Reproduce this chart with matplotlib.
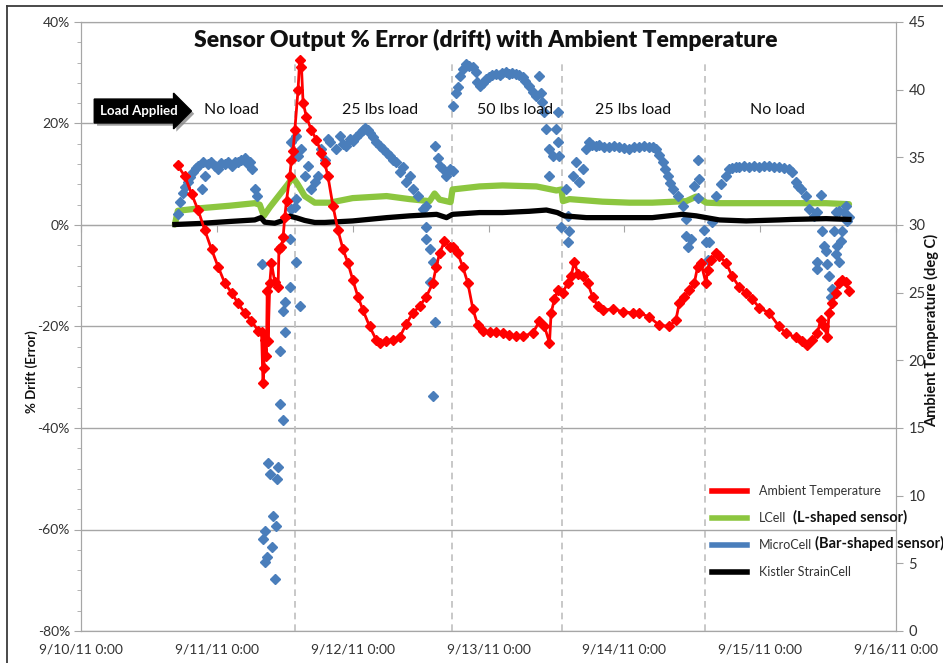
import datetime as dt
import matplotlib
matplotlib.use("Agg")
import matplotlib.pyplot as plt
import matplotlib.dates as mdates
import matplotlib.patheffects as pe
from matplotlib.ticker import MultipleLocator, FuncFormatter
from matplotlib.lines import Line2D

START = dt.datetime(2011, 9, 10)

# ---------------- data (days after 9/10/11 0:00) ----------------
temp_days = [0.711, 0.765, 0.814, 0.862, 0.912, 0.961, 1.010, 1.059, 1.108, 1.157,
             1.206, 1.255, 1.304, 1.329, 1.340, 1.346, 1.353, 1.365, 1.371, 1.377,
             1.390, 1.402, 1.426, 1.451, 1.457, 1.476, 1.488, 1.500, 1.513, 1.537,
             1.549, 1.561, 1.574, 1.598, 1.610, 1.623, 1.635, 1.660, 1.696, 1.733,
             1.770, 1.794, 1.818, 1.855, 1.892, 1.929, 1.965, 2.002, 2.039, 2.076,
             2.125, 2.174, 2.199, 2.248, 2.296, 2.346, 2.395, 2.443, 2.493, 2.542,
             2.590, 2.615, 2.640, 2.676, 2.713, 2.738, 2.774, 2.811, 2.848, 2.885,
             2.921, 2.958, 3.010, 3.057, 3.105, 3.154, 3.200, 3.252, 3.326, 3.375,
             3.412, 3.449, 3.461, 3.485, 3.510, 3.546, 3.583, 3.608, 3.632, 3.657,
             3.693, 3.730, 3.767, 3.804, 3.840, 3.914, 3.988, 4.061, 4.110, 4.184,
             4.257, 4.331, 4.380, 4.404, 4.441, 4.478, 4.515, 4.539, 4.564, 4.601,
             4.613, 4.638, 4.674, 4.699, 4.748, 4.796, 4.846, 4.895, 4.943, 4.993,
             5.066, 5.140, 5.189, 5.263, 5.311, 5.348, 5.385, 5.421, 5.446, 5.471,
             5.495, 5.507, 5.532, 5.557, 5.581, 5.605, 5.630, 5.654]
temp_vals = [34.4, 33.6, 32.3, 31.1, 29.6, 28.2, 26.9, 25.7, 25.0, 24.2,
             23.5, 22.9, 22.2, 22.1, 18.3, 19.4, 21.5, 20.3, 25.1, 21.4,
             25.7, 27.2, 25.8, 25.4, 28.2, 28.4, 29.1, 30.6, 31.8, 33.6,
             34.8, 35.5, 37.0, 40.0, 42.2, 41.7, 39.0, 38.0, 37.0, 36.3,
             35.3, 34.6, 33.6, 31.4, 29.6, 28.2, 27.2, 25.9, 24.7, 23.7,
             22.5, 21.5, 21.3, 21.4, 21.5, 21.7, 22.7, 23.5, 24.0, 24.7,
             25.7, 26.9, 27.9, 28.8, 28.4, 28.4, 27.9, 26.9, 25.7, 23.8,
             22.6, 22.2, 22.1, 22.1, 22.0, 21.9, 21.8, 21.8, 22.0, 22.9,
             22.5, 21.3, 23.5, 24.5, 25.2, 25.0, 25.7, 26.2, 27.3, 26.4,
             26.2, 25.7, 24.7, 24.0, 23.7, 23.8, 23.6, 23.5, 23.5, 23.2,
             22.6, 22.5, 23.0, 24.2, 24.7, 25.2, 25.7, 26.9, 27.2, 25.7,
             26.7, 27.4, 27.9, 27.7, 27.2, 26.2, 25.4, 25.0, 24.5, 23.9,
             23.5, 22.5, 22.0, 21.7, 21.4, 21.1, 21.5, 22.0, 23.0, 22.5,
             21.7, 23.5, 24.2, 25.0, 25.7, 25.9, 25.8, 25.1]

lcell_days = [0.691, 0.713, 0.875, 1.096, 1.279, 1.316, 1.346, 1.390, 1.463, 1.522,
              1.559, 1.596, 1.647, 1.721, 1.831, 2.000, 2.250, 2.419, 2.566, 2.603,
              2.640, 2.721, 2.735, 2.934, 3.103, 3.353, 3.500, 3.537, 3.548, 3.596,
              3.838, 4.037, 4.206, 4.456, 4.529, 4.603, 4.699, 5.140, 5.485, 5.654]
lcell_vals = [0.1, 2.8, 3.3, 3.8, 4.3, 4.0, 1.8, 3.5, 6.0, 8.0,
              9.4, 8.0, 5.7, 4.4, 4.4, 5.3, 5.7, 5.1, 4.7, 6.2,
              5.0, 4.5, 7.0, 7.6, 7.8, 7.6, 6.8, 7.0, 4.7, 5.1,
              4.6, 4.4, 4.4, 4.7, 5.6, 4.4, 4.3, 4.3, 4.3, 4.1]

kistler_days = [0.691, 0.875, 1.096, 1.279, 1.324, 1.353, 1.426, 1.478, 1.537, 1.588,
                1.647, 1.721, 1.794, 2.000, 2.250, 2.419, 2.618, 2.691, 2.735, 2.934,
                3.103, 3.300, 3.426, 3.507, 3.559, 3.721, 4.037, 4.206, 4.426, 4.529,
                4.603, 4.699, 4.897, 5.140, 5.235, 5.485, 5.654]
kistler_vals = [0.1, 0.3, 0.7, 1.0, 1.45, 0.55, 0.35, 0.8, 1.75, 1.4,
                0.9, 0.5, 0.5, 0.8, 1.45, 1.8, 2.1, 1.45, 2.1, 2.45,
                2.45, 2.7, 2.95, 2.45, 1.8, 1.45, 1.45, 1.45, 2.1, 1.8,
                1.45, 1.0, 0.8, 1.0, 1.1, 1.25, 1.1]

micro_days = [0.713, 0.728, 0.750, 0.765, 0.787, 0.801, 0.824, 0.846, 0.860, 0.890,
              0.897, 0.912, 0.934, 0.956, 0.985, 1.007, 1.029, 1.059, 1.081, 1.110,
              1.132, 1.154, 1.176, 1.206, 1.228, 1.243, 1.257, 1.279, 1.294, 1.329,
              1.375, 1.390, 1.441, 1.449, 1.412, 1.434, 1.353, 1.338, 1.404, 1.368,
              1.353, 1.426, 1.463, 1.485, 1.485, 1.500, 1.500, 1.463, 1.537, 1.586,
              1.610, 1.537, 1.549, 1.574, 1.586, 1.549, 1.586, 1.596, 1.623, 1.647,
              1.669, 1.696, 1.721, 1.743, 1.770, 1.794, 1.816, 1.831, 1.880, 1.904,
              1.926, 1.954, 1.978, 2.000, 2.022, 2.051, 2.074, 2.088, 2.110, 2.125,
              2.147, 2.174, 2.199, 2.223, 2.250, 2.272, 2.294, 2.321, 2.346, 2.368,
              2.395, 2.419, 2.443, 2.480, 2.517, 2.542, 2.542, 2.542, 2.566, 2.590,
              2.566, 2.603, 2.588, 2.603, 2.627, 2.640, 2.664, 2.689, 2.713, 2.735,
              2.738, 2.762, 2.772, 2.787, 2.809, 2.836, 2.860, 2.885, 2.910, 2.919,
              2.934, 2.956, 2.983, 3.007, 3.029, 3.057, 3.081, 3.103, 3.130, 3.154,
              3.176, 3.203, 3.228, 3.252, 3.272, 3.301, 3.324, 3.351, 3.375, 3.388,
              3.397, 3.412, 3.424, 3.449, 3.449, 3.473, 3.498, 3.510, 3.522, 3.510,
              3.537, 3.571, 3.583, 3.596, 3.583, 3.620, 3.645, 3.669, 3.693, 3.718,
              3.743, 3.765, 3.792, 3.816, 3.853, 3.890, 3.926, 3.963, 4.000, 4.037,
              4.074, 4.110, 4.147, 4.184, 4.208, 4.233, 4.257, 4.282, 4.301, 4.319,
              4.338, 4.355, 4.393, 4.429, 4.454, 4.454, 4.490, 4.466, 4.515, 4.539,
              4.551, 4.539, 4.588, 4.601, 4.625, 4.613, 4.649, 4.674, 4.711, 4.748,
              4.772, 4.794, 4.821, 4.846, 4.882, 4.919, 4.956, 4.993, 5.029, 5.066,
              5.103, 5.140, 5.176, 5.213, 5.238, 5.262, 5.279, 5.299, 5.336, 5.360,
              5.397, 5.421, 5.446, 5.458, 5.471, 5.483, 5.421, 5.421, 5.495, 5.507,
              5.520, 5.532, 5.544, 5.557, 5.568, 5.581, 5.593, 5.605, 5.618, 5.630,
              5.642, 5.581, 5.557, 5.654]
micro_vals = [2.1, 4.5, 6.4, 7.4, 8.4, 9.4, 10.4, 11.2, 11.6, 7.0,
              12.4, 9.6, 12.0, 12.5, 11.6, 11.0, 12.2, 12.0, 12.5, 11.6,
              12.4, 12.4, 12.9, 13.3, 12.0, 12.5, 11.0, 7.0, 5.7, -7.7,
              -46.8, -49.1, -50.1, -47.7, -57.4, -59.4, -60.3, -61.9, -63.5, -65.5,
              -66.5, -69.8, -35.3, -38.5, -17.0, -15.2, -21.1, -24.9, -2.8, -7.3,
              -16.0, -12.3, 3.1, 3.5, 5.1, 16.3, 17.5, 13.5, 14.9, 9.6,
              11.6, 7.0, 8.4, 9.6, 14.9, 12.9, 16.9, 16.3, 14.9, 17.5,
              15.9, 15.5, 16.9, 16.5, 17.3, 18.2, 18.8, 19.2, 18.8, 18.2,
              17.3, 16.3, 15.5, 14.9, 14.1, 13.5, 12.9, 12.4, 10.4, 11.4,
              8.4, 9.6, 7.0, 5.7, 3.1, 3.7, -0.3, -2.8, -4.8, -7.3,
              -11.3, -19.2, -33.7, 15.5, 13.3, 11.6, 11.0, 9.6, 11.0, 10.6,
              23.4, 26.1, 27.1, 29.3, 30.7, 31.7, 31.3, 31.1, 30.1, 28.1,
              27.3, 27.9, 28.7, 29.1, 29.5, 29.7, 29.5, 29.9, 30.1, 29.7,
              29.9, 29.7, 29.5, 29.1, 28.3, 27.3, 26.3, 25.4, 29.3, 26.1,
              24.2, 22.2, 18.9, 14.9, 9.6, 13.5, 18.9, 16.3, 13.5, 22.2,
              -0.3, 7.0, 1.7, -1.2, -3.4, 9.6, 12.4, 8.4, 11.0, 14.9,
              16.3, 15.7, 15.5, 15.7, 15.3, 15.3, 15.5, 15.3, 15.1, 14.9,
              15.3, 15.3, 15.5, 15.3, 15.3, 14.9, 13.7, 12.4, 11.0, 9.6,
              8.2, 7.0, 5.7, 3.7, 1.1, -2.2, -2.8, -4.4, 7.6, 12.9,
              9.0, 5.4, -0.9, -3.4, -3.4, -6.8, 0.5, 5.7, 8.0, 9.6,
              11.0, 11.2, 11.4, 11.4, 11.6, 11.4, 11.6, 11.4, 11.6, 11.6,
              11.4, 11.4, 11.2, 11.0, 10.4, 8.4, 7.6, 7.0, 5.7, 3.1,
              1.7, 2.5, 6.0, -1.2, -4.2, -5.2, -7.3, -8.7, -7.7, -10.1,
              -14.1, -12.7, -1.2, -5.8, -4.2, -7.2, -3.2, -1.2, 2.5, 3.7,
              0.7, 2.7, 2.5, 1.5]

load_change_days = [1.574, 2.728, 3.544, 4.596]
region_labels = ["No load", "25 lbs load", "50 lbs load", "25 lbs load", "No load"]
series_names = ["Ambient Temperature", "LCell", "MicroCell", "Kistler StrainCell"]

assert len(temp_days) == len(temp_vals)
assert len(lcell_days) == len(lcell_vals)
assert len(kistler_days) == len(kistler_vals)
assert len(micro_days) == len(micro_vals)

# ---------------- figure ----------------
W, H = 943, 663
plt.rcParams['font.family'] = ['Lato', 'DejaVu Sans']
fig = plt.figure(figsize=(W / 100, H / 100), dpi=100)


def fx(px):
    return px / W


def fy(py):
    return 1 - py / H


def dates(days):
    return [START + dt.timedelta(days=d) for d in days]


GRID = '#a6a6a6'
TXT = '#333333'
RED = '#ff0000'
GREEN = '#8cc63f'
BLUE = '#4a7ebb'

# chart-area border (top and left edges visible in the reference)
fig.add_artist(Line2D([fx(7), 1.0], [fy(6), fy(6)], color='#3a3a3a', lw=1.3))
fig.add_artist(Line2D([fx(7), fx(7)], [fy(6), 0.0], color='#3a3a3a', lw=1.3))

ax = fig.add_axes([fx(81), fy(631), fx(896) - fx(81), fy(22) - fy(631)])
ax2 = ax.twinx()

ax.plot(dates(lcell_days), lcell_vals, color=GREEN, lw=4.5, zorder=3,
        solid_joinstyle='round', solid_capstyle='round')
ax.plot(dates(micro_days), micro_vals, ls='none', marker='D', ms=4.8,
        color=BLUE, zorder=4)
ax.plot(dates(kistler_days), kistler_vals, color='black', lw=3.8, zorder=5,
        solid_joinstyle='round')
ax2.plot(dates(temp_days), temp_vals, color=RED, lw=2, marker='D', ms=4.8,
         zorder=3, solid_joinstyle='round')

ax.vlines(dates(load_change_days), -80, 32, colors='#bfbfbf',
          linestyles=(0, (4, 3)), lw=1.2, zorder=1)

ax.set_xlim(START, START + dt.timedelta(days=6))
ax.set_ylim(-80, 40)
ax2.set_ylim(0, 45)

ax.yaxis.set_major_locator(MultipleLocator(20))
ax.yaxis.set_minor_locator(MultipleLocator(4))
ax.yaxis.set_major_formatter(FuncFormatter(lambda v, _: f"{v:.0f}%"))
ax.tick_params(axis='y', which='major', length=5, color=GRID, labelsize=10,
               labelcolor=TXT, pad=3)
ax.tick_params(axis='y', which='minor', length=3, color=GRID)
ax.grid(axis='y', which='major', color=GRID, lw=1)
ax.set_axisbelow(True)


def date_fmt(v, _):
    d = mdates.num2date(v)
    return f"{d.month}/{d.day}/{d:%y} {d.hour}:{d:%M}"


ax.xaxis.set_major_locator(mdates.DayLocator())
ax.xaxis.set_major_formatter(FuncFormatter(date_fmt))
ax.tick_params(axis='x', length=0, pad=9, labelsize=10, labelcolor=TXT)

sec = ax.secondary_xaxis(80 / 120)
sec.xaxis.set_major_locator(mdates.DayLocator())
sec.tick_params(axis='x', direction='in', length=5, color=GRID, labeltop=False)
for s in sec.spines.values():
    s.set_color(GRID)

ax2.yaxis.set_major_locator(MultipleLocator(5))
ax2.yaxis.set_major_formatter(FuncFormatter(lambda v, _: f"{v:.0f}"))
ax2.tick_params(axis='y', length=5, color=GRID, labelsize=10.5, labelcolor=TXT, pad=4)

for a in (ax, ax2):
    for s in a.spines.values():
        s.set_color(GRID)

# ---------------- texts ----------------
fig.text(fx(486), fy(40), "Sensor Output % Error (drift) with Ambient Temperature",
         ha='center', va='center', fontsize=16.5, fontweight='heavy', color='#111111')

fig.text(fx(32), fy(372), "% Drift (Error)", rotation=90, ha='center', va='center',
         fontsize=9.5, fontweight='bold', color='#111111')
fig.text(fx(932), fy(330), "Ambient Temperature (deg C)", rotation=90, ha='center',
         va='center', fontsize=10.5, fontweight='bold', color='#111111')

load_txt = fig.text(fx(139), fy(111), "Load Applied", ha='center', va='center',
                    color='white', fontsize=9.5, fontweight='bold',
                    bbox=dict(boxstyle='rarrow,pad=0.45', fc='black', ec='black'))
load_txt.get_bbox_patch().set_path_effects(
    [pe.SimplePatchShadow(offset=(2, -2), shadow_rgbFace='#888888', alpha=0.8),
     pe.Normal()])

label_x = [232, 380, 515, 633, 777]
for px, lab in zip(label_x, region_labels):
    fig.text(fx(px), fy(110), lab, ha='center', va='center', fontsize=11.5,
             color='#111111')

handles = [Line2D([], [], color=c, lw=4) for c in (RED, GREEN, BLUE, 'black')]
leg = fig.legend(handles, series_names, loc='upper left',
                 bbox_to_anchor=(fx(712), fy(485)), frameon=False, fontsize=9,
                 handlelength=2.8, handletextpad=0.95, labelspacing=1.2,
                 borderpad=0, borderaxespad=0)
for t in leg.get_texts():
    t.set_color(TXT)

fig.text(fx(793), fy(517), "(L-shaped sensor)", fontsize=10.5, fontweight='bold',
         va='center', color='#111111')
fig.text(fx(815), fy(543), "(Bar-shaped sensor)", fontsize=10.5, fontweight='bold',
         va='center', color='#111111')

fig.savefig("out.png", dpi=100)
